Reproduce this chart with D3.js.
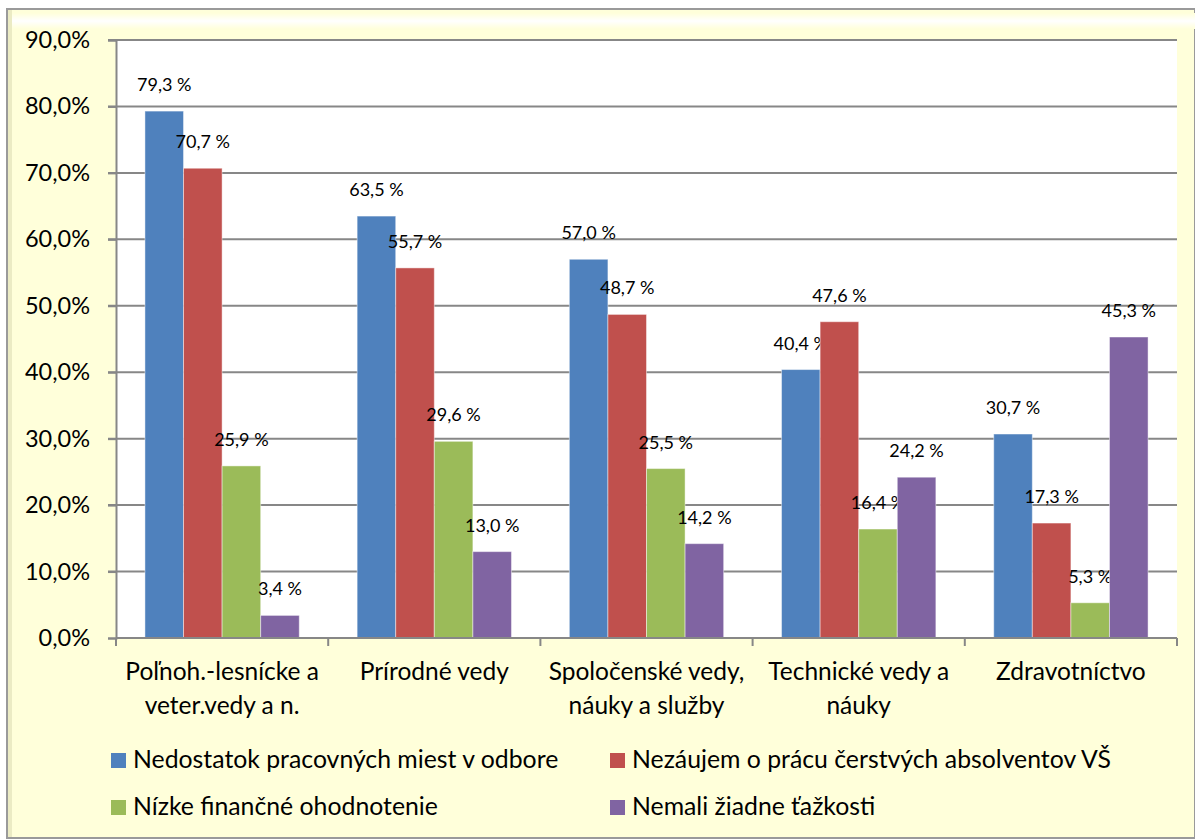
<!DOCTYPE html>
<html>
<head>
<meta charset="utf-8">
<script src="https://cdn.jsdelivr.net/npm/d3@7.9.0/dist/d3.min.js"></script>
<style>
  body { margin: 0; background: #fff; }
  svg text { font-family: Lato, "Open Sans", sans-serif; fill: #000; }
</style>
</head>
<body>
<svg id="chart" width="1195" height="839"></svg>
<script>
const categories = [
  ['Poľnoh.-lesnícke a', 'veter.vedy a n.'],
  ['Prírodné vedy'],
  ['Spoločenské vedy,', 'náuky a služby'],
  ['Technické vedy a', 'náuky'],
  ['Zdravotníctvo']
];
const seriesNames = [
  'Nedostatok pracovných miest v odbore',
  'Nezáujem o prácu čerstvých absolventov VŠ',
  'Nízke finančné ohodnotenie',
  'Nemali žiadne ťažkosti'
];
const seriesColors = ['#4f81bd', '#c0504d', '#9bbb59', '#8064a2'];
const nedostatok = [79.3, 63.5, 57.0, 40.4, 30.7];
const nezaujem = [70.7, 55.7, 48.7, 47.6, 17.3];
const nizke = [25.9, 29.6, 25.5, 16.4, 5.3];
const nemali = [3.4, 13.0, 14.2, 24.2, 45.3];
const yTicks = [0, 10, 20, 30, 40, 50, 60, 70, 80, 90];

const series = [nedostatok, nezaujem, nizke, nemali];
const svg = d3.select('#chart');

// outer frame
const defs = svg.append('defs');
const topGlow = defs.append('linearGradient').attr('id', 'topGlow').attr('x1', 0).attr('y1', 0).attr('x2', 0).attr('y2', 1);
topGlow.append('stop').attr('offset', 0).attr('stop-color', '#ffffda');
topGlow.append('stop').attr('offset', 0.5).attr('stop-color', '#ffffff');
topGlow.append('stop').attr('offset', 1).attr('stop-color', '#ffffda');

svg.append('rect').attr('x', 7).attr('y', 9).attr('width', 1188).attr('height', 829)
  .attr('fill', '#ffffda').attr('stroke', '#9a9a9a').attr('stroke-width', 2);
svg.append('rect').attr('x', 12).attr('y', 13).attr('width', 1183).attr('height', 16)
  .attr('fill', 'url(#topGlow)');
svg.append('rect').attr('x', 8).attr('y', 10).attr('width', 4).attr('height', 827)
  .attr('fill', '#ebebc4');

const margin = { left: 116, top: 40, right: 1177, bottom: 638 };

const x0 = d3.scaleBand().domain(d3.range(categories.length))
  .range([margin.left, margin.right]).paddingInner(0).paddingOuter(0);
const groupW = x0.bandwidth();
const barW = groupW / 5.5;
const y = d3.scaleLinear().domain([0, 90]).range([margin.bottom, margin.top]);

// plot area
svg.append('rect').attr('x', margin.left).attr('y', margin.top)
  .attr('width', margin.right - margin.left).attr('height', margin.bottom - margin.top)
  .attr('fill', '#fff');

// gridlines
svg.append('g').selectAll('line').data(yTicks.slice(1)).join('line')
  .attr('x1', margin.left - 8).attr('x2', margin.right)
  .attr('y1', d => y(d)).attr('y2', d => y(d))
  .attr('stroke', '#878787').attr('stroke-width', 2);

// bars
series.forEach((vals, si) => {
  svg.append('g').selectAll('rect').data(vals).join('rect')
    .attr('x', (d, i) => x0(i) + barW * 0.75 + si * barW)
    .attr('y', d => y(d))
    .attr('width', barW)
    .attr('height', d => y(0) - y(d))
    .attr('fill', seriesColors[si])
    .attr('stroke', 'rgba(255,255,255,0.45)').attr('stroke-width', 1);
  svg.append('g').selectAll('text').data(vals).join('text')
    .attr('x', (d, i) => x0(i) + barW * 0.75 + si * barW + barW / 2)
    .attr('y', d => y(d) - 20)
    .attr('text-anchor', 'middle')
    .attr('font-size', 18)
    .text(d => d.toFixed(1).replace('.', ',') + ' %');
});

// axes
const yAxis = d3.axisLeft(y).tickValues(yTicks).tickSize(8)
  .tickFormat(d => d.toFixed(1).replace('.', ',') + '%');
const gy = svg.append('g').attr('transform', `translate(${margin.left},0)`).call(yAxis);
gy.select('.domain').attr('stroke', '#878787').attr('stroke-width', 2);
gy.selectAll('.tick line').attr('stroke', '#878787').attr('stroke-width', 2);
gy.selectAll('.tick text').attr('font-size', 23.5).attr('x', -26).attr('font-family', 'Lato, sans-serif');

const xAxisLine = svg.append('g');
xAxisLine.append('line').attr('x1', margin.left).attr('x2', margin.right)
  .attr('y1', y(0)).attr('y2', y(0)).attr('stroke', '#878787').attr('stroke-width', 2);
xAxisLine.selectAll('.xt').data(d3.range(categories.length + 1)).join('line')
  .attr('class', 'xt')
  .attr('x1', i => margin.left + i * groupW).attr('x2', i => margin.left + i * groupW)
  .attr('y1', y(0)).attr('y2', y(0) + 8)
  .attr('stroke', '#878787').attr('stroke-width', 2);

// category labels
categories.forEach((lines, i) => {
  const t = svg.append('text').attr('text-anchor', 'middle').attr('font-size', 24.5);
  lines.forEach((ln, li) => {
    t.append('tspan').attr('x', x0(i) + groupW / 2).attr('y', 680 + li * 34).text(ln);
  });
});

// legend
const legendPos = [[111, 768], [610, 768], [111, 815], [610, 815]];
seriesNames.forEach((name, i) => {
  const [lx, ly] = legendPos[i];
  svg.append('rect').attr('x', lx).attr('y', ly - 15).attr('width', 15).attr('height', 15)
    .attr('fill', seriesColors[i]);
  svg.append('text').attr('x', lx + 22).attr('y', ly).attr('font-size', 24.8).text(name);
});
</script>
</body>
</html>
